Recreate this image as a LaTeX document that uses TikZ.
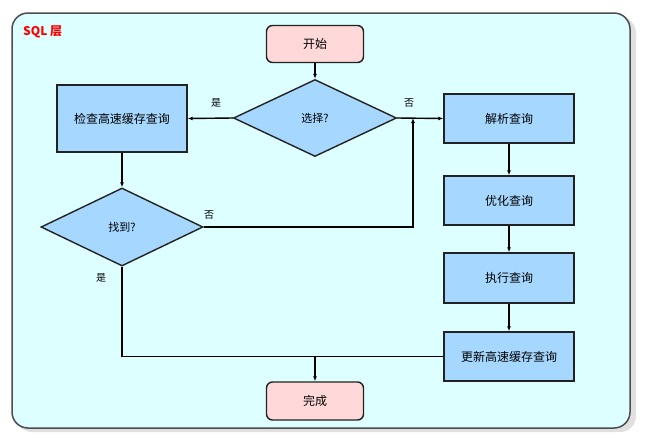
\documentclass[tikz,border=0pt]{standalone}
\usepackage{fontspec}
\setmainfont{Noto Sans CJK SC}
\usetikzlibrary{shapes.geometric,arrows.meta}
\definecolor{bgcyan}{HTML}{DDFFFF}
\definecolor{boxblue}{HTML}{A6D8FF}
\definecolor{termpink}{HTML}{FFD9D9}
\definecolor{edge}{HTML}{222222}
\tikzset{
  procbox/.style={draw=edge,line width=1.4pt,fill=boxblue,minimum width=130pt,minimum height=49pt,inner sep=0pt,font=\fontsize{12}{14}\selectfont},
  termbox/.style={draw=edge,line width=1.4pt,fill=termpink,rounded corners=6pt,minimum width=97pt,minimum height=37pt,inner sep=0pt,font=\fontsize{12}{14}\selectfont},
  decbox/.style={diamond,draw=edge,line width=1.4pt,fill=boxblue,minimum width=163pt,minimum height=77pt,inner sep=0pt,font=\fontsize{11}{13}\selectfont},
  conn/.style={draw=black,line width=1.4pt},
  arr/.style={conn,-{Latex[length=5pt,width=4pt]}},
  lbl/.style={font=\fontsize{10}{12}\selectfont,inner sep=0pt}
}
\begin{document}
\begin{tikzpicture}[x=1pt,y=-1pt]
\useasboundingbox (0,0) rectangle (646,437);
\fill[white] (0,0) rectangle (646,437);
\fill[black!12,rounded corners=16pt] (16,17) rectangle (636,432);
\filldraw[fill=bgcyan,draw=edge!80,line width=1.5pt,rounded corners=16pt] (12,13) rectangle (630,428);
\node[anchor=west,text=red,font=\bfseries\fontsize{12}{14}\selectfont,inner sep=0pt] (title) at (23,32) {SQL 层};

\node[termbox] (start) at (315,44) {开始};
\node[decbox] (choice) at (315,118) {选择?};
\node[procbox,minimum height=67pt] (check) at (122,118.5) {检查高速缓存查询};
\node[decbox,minimum width=162pt,minimum height=78pt] (found) at (122,227) {找到?};
\node[procbox] (parse) at (509,118.5) {解析查询};
\node[procbox] (opt) at (509,200.5) {优化查询};
\node[procbox,minimum height=50pt] (exec) at (509,278) {执行查询};
\node[procbox] (upd) at (509,356.5) {更新高速缓存查询};
\node[termbox,minimum height=38pt] (finish) at (315,401) {完成};

\draw[arr] (start.south) -- (choice.north);
\draw[arr] (choice.west) -- (check.east);
\draw[arr] (choice.east) -- (parse.west);
\draw[arr] (check.south) -- (found.north);
\coordinate (j1) at (413,227);
\draw[arr] (found.east) -- (j1) -- (j1 |- choice.east);
\draw[conn] (found.south) -- (found.south |- upd.west) -- (upd.west);
\coordinate (m) at (finish.north |- upd.west);
\draw[arr] (m) -- (finish.north);
\draw[arr] (parse.south) -- (opt.north);
\draw[arr] (opt.south) -- (exec.north);
\draw[arr] (exec.south) -- (upd.north);

\node[lbl] (l1) at (216,103) {是};
\node[lbl] (l2) at (409,103) {否};
\node[lbl] (l3) at (209,215) {否};
\node[lbl] (l4) at (101,278) {是};
\end{tikzpicture}
\end{document}
